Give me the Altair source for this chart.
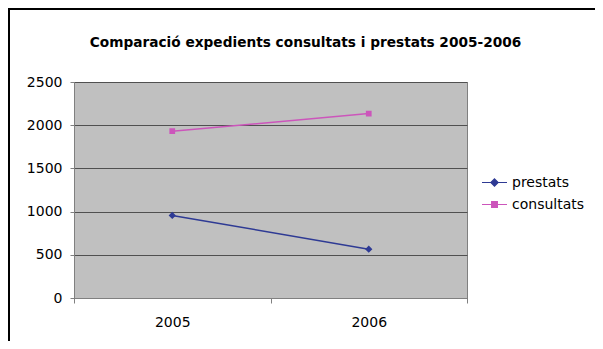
import altair as alt
import pandas as pd

years = ["2005", "2006"]
prestats = [955, 565]
consultats = [1930, 2135]
series_names = ["prestats", "consultats"]
series_colors = ["#2E3A94", "#CC55BB"]
y_ticks = [0, 500, 1000, 1500, 2000, 2500]

rows = []
for name, vals in zip(series_names, [prestats, consultats]):
    for yr, v in zip(years, vals):
        rows.append({"any": yr, "serie": name, "valor": v})
df = pd.DataFrame(rows)

# legend-style symbols: a short line with a marker in the middle
diamond = "M-1,0H1M0,-0.29L0.29,0L0,0.29L-0.29,0Z"
square = "M-1,0H1M-0.23,-0.23H0.23V0.23H-0.23Z"

W, H = 393, 216
PL, PT = 66, 74
TOTW, TOTH = 587, 333

x = alt.X("any:N", title=None, sort=years,
          scale=alt.Scale(paddingInner=0, paddingOuter=0),
          axis=alt.Axis(labelAngle=0, tickBand="extent", tickSize=5, labelPadding=12,
                        domainColor="#808080", tickColor="#808080", grid=False,
                        labelFontSize=14, labelFont="DejaVu Sans", labelColor="#000000"))
y = alt.Y("valor:Q", title=None,
          scale=alt.Scale(domain=[0, 2500], nice=False),
          axis=alt.Axis(values=y_ticks, format="d", tickSize=4, labelPadding=8,
                        domainColor="#808080", tickColor="#808080",
                        grid=True, gridColor="#505050", gridWidth=1,
                        labelFontSize=14, labelFont="DejaVu Sans", labelColor="#000000"))

legend = alt.Legend(title=None, orient="none", legendX=407, legendY=87,
                    labelFontSize=14, labelFont="DejaVu Sans",
                    labelColor="#000000", padding=0, rowPadding=1,
                    labelOffset=4, symbolStrokeWidth=1.2, symbolSize=625)
color_scale = alt.Scale(domain=series_names, range=series_colors)
color = alt.Color("serie:N", sort=series_names, scale=color_scale, legend=legend)
stroke = alt.Stroke("serie:N", sort=series_names, scale=color_scale, legend=legend)
shape = alt.Shape("serie:N", sort=series_names,
                  scale=alt.Scale(domain=series_names, range=[diamond, square]),
                  legend=legend)

base = alt.Chart(df)
lines = base.mark_line(strokeWidth=1.5).encode(x=x, y=y, color=color)
points = base.mark_point(filled=True, opacity=1, size=625, strokeWidth=0).encode(
    x=x, y=y, color=color, stroke=stroke, shape=shape)

frame_df = pd.DataFrame({"k": [0]})
left_border = alt.Chart(frame_df).mark_rule(color="#000000", strokeWidth=2).encode(
    x=alt.value(-65), y=alt.value(-PT), y2=alt.value(TOTH - PT))
top_border = alt.Chart(frame_df).mark_rule(color="#000000", strokeWidth=2).encode(
    x=alt.value(-PL), x2=alt.value(TOTW - PL), y=alt.value(-73))

chart = alt.layer(lines, points, left_border, top_border).properties(
    width=W, height=H,
    background="#FFFFFF",
    title=alt.TitleParams("Comparació expedients consultats i prestats 2005-2006",
                          font="DejaVu Sans", fontSize=13.7, fontWeight="bold",
                          color="#000000", anchor="middle", dx=35, offset=-43),
    autosize=alt.AutoSizeParams(type="none"),
    padding={"left": PL, "top": PT, "right": TOTW - PL - W, "bottom": TOTH - PT - H},
).configure_view(fill="#C0C0C0", stroke="#808080", strokeWidth=1)

chart.save("out.html", embed_options={"renderer": "svg", "actions": False})
